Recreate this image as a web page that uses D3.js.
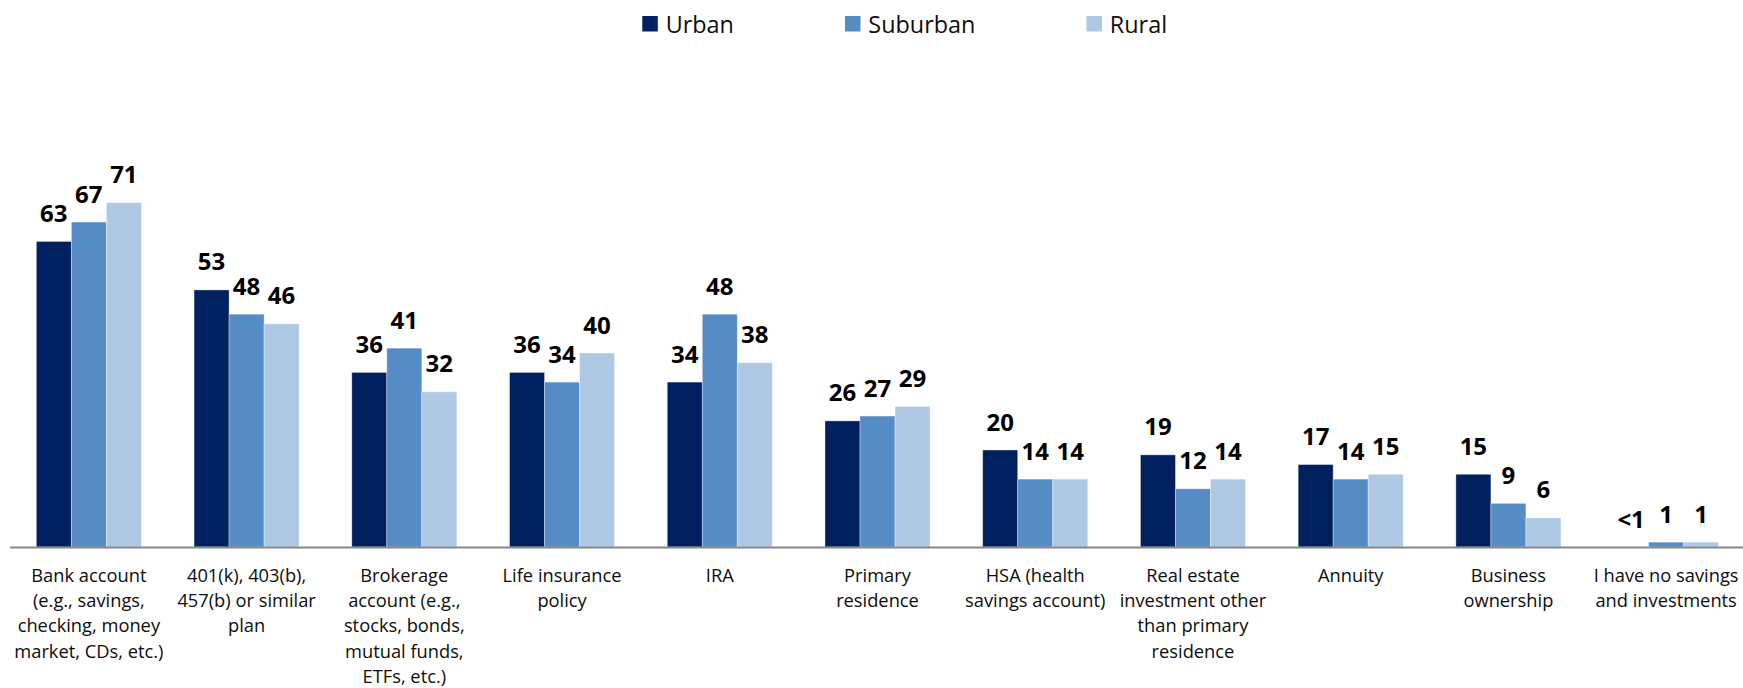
<!DOCTYPE html>
<html>
<head>
<meta charset="utf-8">
<script src="https://cdn.jsdelivr.net/npm/d3@7"></script>
<style>
  html, body { margin: 0; padding: 0; background: #fff; }
  svg { display: block; font-family: "Open Sans", "Noto Sans", sans-serif; }
</style>
</head>
<body>
<svg id="chart" width="1743" height="688"></svg>
<script>
// ---- data ----
const categories = [
  "Bank account\n(e.g., savings,\nchecking, money\nmarket, CDs, etc.)",
  "401(k), 403(b),\n457(b) or similar\nplan",
  "Brokerage\naccount (e.g.,\nstocks, bonds,\nmutual funds,\nETFs, etc.)",
  "Life insurance\npolicy",
  "IRA",
  "Primary\nresidence",
  "HSA (health\nsavings account)",
  "Real estate\ninvestment other\nthan primary\nresidence",
  "Annuity",
  "Business\nownership",
  "I have no savings\nand investments"
];
const series = ["Urban", "Suburban", "Rural"];
const urban    = [63, 53, 36, 36, 34, 26, 20, 19, 17, 15, 0];
const suburban = [67, 48, 41, 34, 48, 27, 14, 12, 14,  9, 1];
const rural    = [71, 46, 32, 40, 38, 29, 14, 14, 15,  6, 1];
const urbanText    = ["63", "53", "36", "36", "34", "26", "20", "19", "17", "15", "<1"];
const suburbanText = suburban.map(String);
const ruralText    = rural.map(String);
const colors = ["#00205f", "#558cc6", "#afc9e4"];

// ---- layout ----
const svg = d3.select("#chart");
const W = 1743, baseY = 547;

const x0 = d3.scaleBand().domain(categories).range([10, 1745])
  .paddingInner(0.334).paddingOuter(0.167);
const x1 = d3.scaleBand().domain(series).range([0, x0.bandwidth()]);
const y = d3.scaleLinear().domain([0, 71]).range([baseY, baseY - 71 * 4.85]);
const color = d3.scaleOrdinal().domain(series).range(colors);

const seriesVals = [urban, suburban, rural];
const seriesText = [urbanText, suburbanText, ruralText];

const rows = categories.map((c, i) => ({
  cat: c,
  vals: series.map((s, j) => ({ s, v: seriesVals[j][i], t: seriesText[j][i] }))
}));

const groups = svg.append("g").selectAll("g").data(rows).join("g")
  .attr("transform", d => `translate(${x0(d.cat)},0)`);

groups.selectAll("rect").data(d => d.vals.filter(e => e.v > 0)).join("rect")
  .attr("x", e => x1(e.s))
  .attr("y", e => y(e.v))
  .attr("width", x1.bandwidth())
  .attr("height", e => y(0) - y(e.v))
  .attr("fill", e => color(e.s))
  .attr("stroke", "rgba(255,255,255,0.45)")
  .attr("stroke-width", 0.8);

groups.selectAll("text.val").data(d => d.vals).join("text")
  .attr("class", "val")
  .attr("x", e => x1(e.s) + x1.bandwidth() / 2)
  .attr("y", e => y(e.v) - 19.5)
  .attr("text-anchor", "middle")
  .attr("font-size", "24px")
  .attr("font-weight", "bold")
  .attr("fill", "#000")
  .text(e => e.t);

// axis line
const xAxis = d3.axisBottom(x0).tickSize(0).tickFormat("");
const axG = svg.append("g").attr("transform", `translate(0,${baseY + 0.5})`).call(xAxis);
axG.select(".domain").attr("stroke", "#878787").attr("stroke-width", 2)
  .attr("d", `M10,0H${W}`);

// category labels
const labG = svg.append("g");
categories.forEach(c => {
  const t = labG.append("text")
    .attr("x", x0(c) + x0.bandwidth() / 2)
    .attr("y", 581.5)
    .attr("text-anchor", "middle")
    .attr("font-size", "18.3px")
    .attr("fill", "#0d0d0d");
  c.split("\n").forEach((line, k) => {
    t.append("tspan")
      .attr("x", x0(c) + x0.bandwidth() / 2)
      .attr("dy", k === 0 ? 0 : 25.4)
      .text(line);
  });
});

// legend
const leg = svg.append("g");
let lx = 642.3;
series.forEach(s => {
  leg.append("rect").attr("x", lx).attr("y", 16).attr("width", 15.5).attr("height", 15.5)
    .attr("fill", color(s));
  const t = leg.append("text").attr("x", lx + 23.4).attr("y", 32.5)
    .attr("font-size", "23.4px").attr("fill", "#0d0d0d").text(s);
  lx = lx + 23.4 + t.node().getComputedTextLength() + 111;
});
</script>
</body>
</html>
